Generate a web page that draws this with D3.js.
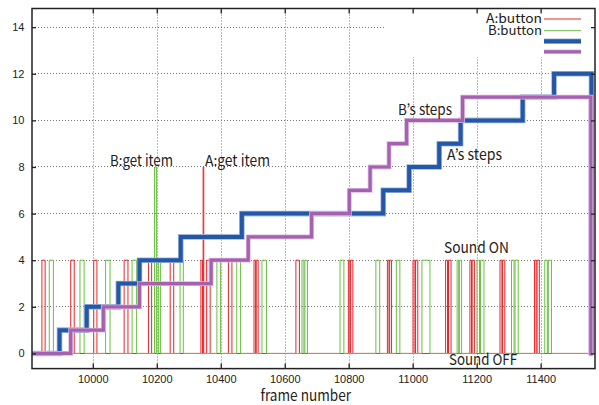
<!DOCTYPE html>
<html><head><meta charset="utf-8">
<script src="https://cdn.jsdelivr.net/npm/d3@7"></script>
<style>body{margin:0;background:#fff}svg{display:block}</style>
</head><body><svg id="c" width="599" height="405"></svg>
<script>
// ---------- data ----------
const xTicks = [10000,10200,10400,10600,10800,11000,11200,11400];
const yTicks = [0,2,4,6,8,10,12,14];

// A's steps (blue) : frame where level starts, level
const stepsAFrames = [9810, 9896, 9981, 10080, 10146, 10275, 10466, 10908, 10989, 11083, 11150, 11344, 11442, 11559, 11562];
const stepsAValues = [0,    1,    2,    3,     4,     5,     6,     7,     8,     9,     10,    11,    12,    0,     0];
// B's steps (purple)
const stepsBFrames = [9810, 9931, 10033, 10146, 10370, 10486, 10684, 10802, 10867, 10926, 10981, 11156, 11557, 11562];
const stepsBValues = [0,    1,    2,     3,     4,     5,     6,     7,     8,     9,     10,    11,    0,     0];

// A:button pulses (red) start / end frames, level
const aPressStart = [9841, 9931, 10003, 10098, 10174, 10242, 10338, 10345, 10356, 10424, 10504, 10511, 10635, 10799, 10806, 10921, 10928, 11001, 11009, 11103, 11112, 11179, 11186, 11273, 11281, 11381, 11389];
const aPressEnd   = [9851, 9942, 10013, 10110, 10184, 10253, 10343, 10347, 10367, 10435, 10509, 10517, 10646, 10804, 10813, 10926, 10934, 11007, 11016, 11109, 11120, 11184, 11193, 11279, 11288, 11386, 11396];
const aPressLevel = [4,4,4,4,4,4,4,8,4,4,4,4,4,4,4,4,4,4,4,4,4,4,4,4,4,4,4];
// B:button pulses (green)
const bPressStart = [9864, 9960, 10040, 10123, 10193, 10205, 10273, 10388, 10450, 10529, 10654, 10663, 10773, 10885, 10949, 11029, 11139, 11146, 11201, 11212, 11309, 11320, 11413, 11424];
const bPressEnd   = [9877, 9973, 10054, 10137, 10199, 10212, 10283, 10399, 10462, 10543, 10660, 10671, 10785, 10897, 10960, 11054, 11144, 11153, 11209, 11223, 11317, 11330, 11421, 11434];
const bPressLevel = [4,4,4,4,8,4,4,4,4,4,4,4,4,4,4,4,4,4,4,4,4,4,4,4];

const legendLabels = ["A:button", "B:button", "", ""];

// ---------- layout ----------
const svg = d3.select("#c");
const L=32, R=595, T=8.5, B=368.6;
const x = d3.scaleLinear().domain([9810, 11570]).range([L, R]);
const y = d3.scaleLinear().domain([-0.65, 14.8]).range([B, T]);
const COL = {red:"#e8262c", green:"#6cbf45", blue:"#2457a6", blueH:"#9fb6de", purple:"#a560b0", purpleH:"#d9b9de"};
const txtFont = "'Noto Sans CJK JP','Noto Sans',sans-serif";

// grid
const grid = svg.append("g").attr("stroke","#777").attr("stroke-width",1).attr("stroke-dasharray","1,2");
grid.selectAll("line.v").data(xTicks).join("line")
  .attr("x1",d=>Math.round(x(d))+0.5).attr("x2",d=>Math.round(x(d))+0.5).attr("y1",T).attr("y2",B);
grid.selectAll("line.h").data(yTicks).join("line")
  .attr("y1",d=>Math.floor(y(d))+0.5).attr("y2",d=>Math.floor(y(d))+0.5).attr("x1",L).attr("x2",R);

// pulses
function pulsePts(starts, ends, levels){
  const idx = d3.range(starts.length).sort((a,b)=>starts[a]-starts[b]);
  const pts=[[x.domain()[0],0]];
  idx.forEach(i=>{pts.push([starts[i],0],[starts[i],levels[i]],[ends[i],levels[i]],[ends[i],0]);});
  pts.push([x.domain()[1],0]);
  return pts;
}
const line = d3.line().x(d=>x(d[0])).y(d=>y(d[1]));
function stepPts(fr, vals){
  const pts=[];
  fr.forEach((f,i)=>{ if(i>0) pts.push([f,vals[i-1]]); pts.push([f,vals[i]]); });
  return pts;
}
const plot = svg.append("g");
plot.append("path").attr("d",line(pulsePts(aPressStart,aPressEnd,aPressLevel)))
  .attr("fill","none").attr("stroke",COL.red).attr("stroke-width",1);
plot.append("path").attr("d",line(pulsePts(bPressStart,bPressEnd,bPressLevel)))
  .attr("fill","none").attr("stroke",COL.green).attr("stroke-width",1);
[[stepsAFrames,stepsAValues,COL.blue,COL.blueH,4],[stepsBFrames,stepsBValues,COL.purple,COL.purpleH,3.2]].forEach(([f,v,c,h,w])=>{
  const d=line(stepPts(f,v));
  plot.append("path").attr("d",d).attr("fill","none").attr("stroke",h).attr("stroke-width",w+1.6);
  plot.append("path").attr("d",d).attr("fill","none").attr("stroke",c).attr("stroke-width",w);
});

// legend
const lg = svg.append("g");
lg.append("rect").attr("x",386).attr("y",T+1).attr("width",R-386-1).attr("height",57-T-1).attr("fill","#fff");
const lgRows=[{y:19,c:COL.red,w:1,ty:22.5},{y:30.7,c:COL.green,w:1,ty:35},{y:41.3,c:COL.blue,w:4},{y:51.7,c:COL.purple,w:3}];
lgRows.forEach((r,i)=>{
  if(r.w>1) lg.append("line").attr("x1",544).attr("x2",581).attr("y1",r.y).attr("y2",r.y).attr("stroke",i==2?COL.blueH:COL.purpleH).attr("stroke-width",r.w+1.4);
  lg.append("line").attr("x1",544).attr("x2",581).attr("y1",r.y).attr("y2",r.y).attr("stroke",r.c).attr("stroke-width",r.w);
  if(legendLabels[i]) lg.append("text").attr("x",542).attr("y",r.ty).attr("text-anchor","end")
    .attr("font-family",txtFont).attr("font-size",12.5).attr("fill","#222")
    .attr("textLength",i==0?56:54).attr("lengthAdjust","spacingAndGlyphs").text(legendLabels[i]);
});

// axes
const fmt = d3.format("d");
const ax = svg.append("g").attr("font-family","'Liberation Sans',Arial,sans-serif");
const gb = ax.append("g").attr("transform",`translate(0,${B})`).call(d3.axisBottom(x).tickValues(xTicks).tickSize(-5).tickPadding(7).tickFormat(fmt));
const gl = ax.append("g").attr("transform",`translate(${L},0)`).call(d3.axisLeft(y).tickValues(yTicks).tickSize(-4).tickPadding(7.5).tickFormat(fmt));
const gt = ax.append("g").attr("transform",`translate(0,${T})`).call(d3.axisTop(x).tickValues(xTicks).tickSize(-5).tickFormat(""));
const gr = ax.append("g").attr("transform",`translate(${R},0)`).call(d3.axisRight(y).tickValues(yTicks).tickSize(-4).tickFormat(""));
[gb,gl,gt,gr].forEach(g=>{g.select(".domain").remove(); g.selectAll(".tick line").attr("stroke","#222").attr("stroke-width",1.3);
  g.selectAll("text").attr("font-size",11).attr("fill","#222");});
svg.append("rect").attr("x",L).attr("y",T).attr("width",R-L).attr("height",B-T).attr("fill","none").attr("stroke","#222").attr("stroke-width",1.5);

// annotations
const notes = [
  {t:"B:get item", x:110, y:165.7, w:63},
  {t:"A:get item", x:205, y:165.7, w:65},
  {t:"B\u2019s steps", x:398, y:114.5, w:54},
  {t:"A\u2019s steps", x:447, y:160, w:55},
  {t:"Sound ON", x:444, y:252.5, w:65},
  {t:"Sound OFF", x:449, y:365.3, w:68},
  {t:"frame number", x:260.5, y:401, w:90.5}
];
svg.append("g").selectAll("text").data(notes).join("text")
  .attr("x",d=>d.x).attr("y",d=>d.y).attr("textLength",d=>d.w).attr("lengthAdjust","spacingAndGlyphs")
  .attr("font-family",txtFont).attr("font-size",15).attr("fill","#222").text(d=>d.t);
</script></body></html>
